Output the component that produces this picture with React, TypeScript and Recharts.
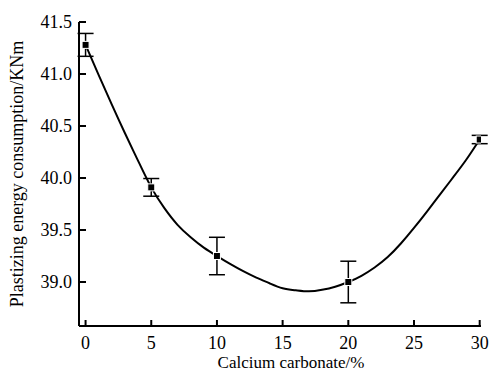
import React from 'react';
import { ComposedChart, Line, Scatter, XAxis, YAxis, ErrorBar } from 'recharts';

// Measured points
const pointX = [0, 5, 10, 20, 30];
const pointY = [41.28, 39.91, 39.25, 39.0, 40.37];
const pointErr = [0.11, 0.085, 0.18, 0.2, 0.04];

// Fitted curve
const curveX = [0, 1, 2, 3, 4, 5, 6, 7, 8, 9, 10, 11, 12, 13, 14, 15, 16, 17, 18, 19, 20, 21, 22, 23, 24, 25, 26, 27, 28, 29, 30];
const curveY = [41.28, 40.99, 40.705, 40.43, 40.165, 39.91, 39.71, 39.55, 39.43, 39.33, 39.25, 39.175, 39.105, 39.043, 38.988, 38.94, 38.92, 38.91, 38.925, 38.955, 39.0, 39.06, 39.14, 39.24, 39.37, 39.52, 39.68, 39.845, 40.01, 40.18, 40.37];

const xTicks = [0, 5, 10, 15, 20, 25, 30];
const yTicks = [39.0, 39.5, 40.0, 40.5, 41.0, 41.5];

const xLabel = 'Calcium carbonate/%';
const yLabel = 'Plastizing energy consumption/KNm';

const points = pointX.map((x, i) => ({ x, y: pointY[i], err: pointErr[i] }));
const curve = curveX.map((x, i) => ({ x, y: curveY[i] }));

const FONT = '"Liberation Serif", "Times New Roman", serif';

const YTick = (props: any) => {
  const { x, y, payload } = props;
  return (
    <g>
      <line x1={x} y1={y} x2={x + 7} y2={y} stroke="#000" strokeWidth={2} />
      <text x={x - 7} y={y} dy="0.33em" textAnchor="end" style={{ fontFamily: FONT, fontSize: 18 }} fill="#000">
        {Number(payload.value).toFixed(1)}
      </text>
    </g>
  );
};

const XTick = (props: any) => {
  const { x, y, payload } = props;
  return (
    <g>
      <line x1={x} y1={y} x2={x} y2={y - 6} stroke="#000" strokeWidth={2} />
      <text x={x} y={y + 23} textAnchor="middle" style={{ fontFamily: FONT, fontSize: 18 }} fill="#000">
        {payload.value}
      </text>
    </g>
  );
};

const Marker = (props: any) => {
  const { cx, cy } = props;
  if (cx == null || cy == null) return null;
  return <rect x={cx - 3.5} y={cy - 3.5} width={7} height={7} fill="#000" stroke="#fff" strokeWidth={1} />;
};

const XLabel = (props: any) => {
  const vb = props.viewBox || { x: 79, y: 326, width: 402, height: 50 };
  return (
    <text x={vb.x + vb.width / 2 + 11} y={vb.y + 42} textAnchor="middle" style={{ fontFamily: FONT, fontSize: 17 }} fill="#000">
      {xLabel}
    </text>
  );
};

const YLabel = (props: any) => {
  const vb = props.viewBox || { x: 0, y: 22, width: 79, height: 304 };
  const cx = vb.x + 23;
  const cy = vb.y + vb.height / 2;
  return (
    <text x={cx} y={cy} transform={`rotate(-90, ${cx}, ${cy})`} textAnchor="middle" style={{ fontFamily: FONT, fontSize: 18 }} fill="#000">
      {yLabel}
    </text>
  );
};

export default function App() {
  return (
    <div style={{ position: 'absolute', left: 0, top: 0, width: 491, height: 376, background: '#fff' }}>
      <ComposedChart width={491} height={376} margin={{ top: 22, right: 10, bottom: 0, left: 0 }}>
        <XAxis
          type="number"
          dataKey="x"
          domain={[-0.5, 30.1]}
          ticks={xTicks}
          allowDataOverflow
          height={50}
          tickSize={0}
          tickMargin={0}
          tickLine={false}
          axisLine={{ stroke: '#000', strokeWidth: 2 }}
          tick={<XTick />}
          label={<XLabel />}
        />
        <YAxis
          type="number"
          dataKey="y"
          domain={[38.577, 41.5]}
          ticks={yTicks}
          allowDataOverflow
          width={79}
          tickSize={0}
          tickMargin={0}
          tickLine={false}
          axisLine={{ stroke: '#000', strokeWidth: 2 }}
          tick={<YTick />}
          label={<YLabel />}
        />
        <Line
          data={curve}
          dataKey="y"
          type="natural"
          stroke="#000"
          strokeWidth={2}
          dot={false}
          activeDot={false}
          isAnimationActive={false}
        />
        <Scatter data={points} dataKey="y" shape={<Marker />} isAnimationActive={false}>
          <ErrorBar dataKey="err" direction="y" width={8} stroke="#000" strokeWidth={1.5} isAnimationActive={false} />
        </Scatter>
      </ComposedChart>
    </div>
  );
}
